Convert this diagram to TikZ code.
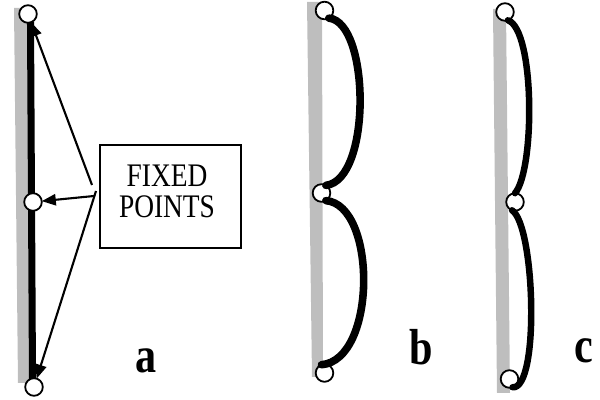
\documentclass[tikz,border=0pt]{standalone}
\usepackage{fontspec}
\setmainfont{Liberation Serif}
\usetikzlibrary{arrows.meta}
\definecolor{railgray}{RGB}{190,190,190}
\tikzset{
  rail/.style={fill=railgray, draw=none},
  pin/.style={circle, draw=black, fill=white, line width=1.3pt, minimum size=12.5pt, inner sep=0pt, outer sep=0pt},
  strand/.style={line width=5.4pt, line cap=round},
  thinstrand/.style={line width=4.6pt, line cap=round},
  pointer/.style={line width=1.5pt, -{Triangle[length=10pt,width=8pt]}},
  tag/.style={draw=black, line width=1.4pt, minimum width=100pt, minimum height=73pt, inner sep=0pt},
  tagtext/.style={inner sep=0pt, font=\fontsize{19.5}{16.6}\selectfont},
  panel/.style={anchor=base, inner sep=0pt, font=\fontsize{30}{32}\selectfont\bfseries}
}
\begin{document}
\begin{tikzpicture}[x=0.025cm, y=-0.025cm]
\useasboundingbox (0,0) rectangle (600,400);

% grey supports
\fill[rail] (14,8) -- (28,8) -- (29,383) -- (18,383) -- cycle;
\fill[rail] (307,2) -- (322,2) -- (323,377) -- (312,377) -- cycle;
\fill[rail] (493,9) -- (506,9) -- (510,393) -- (497,393) -- cycle;

% panel a: straight filament
\draw[line width=5pt] (30.5,22) -- (32.5,380);
\node[pin] (ta) at (28,14) {};
\node[pin] (ma) at (33,202) {};
\node[pin] (ba) at (34,387) {};

% label box and pointers
\node[tag] (box) at (170.5,196.5) {};
\node[tagtext] (words) at (167,195.4)
  {\scalebox{1}[1.2]{\begin{tabular}{@{}c@{}}FIXED\\POINTS\end{tabular}}};
\coordinate (s1) at (92,185);
\coordinate (s2) at (94,196);
\coordinate (s3) at (96,191);
\draw[pointer] (s1) -- (ta);
\draw[pointer] (s2) -- (ma);
\draw[pointer] (s3) -- (ba);

% panel b: two wide loops
\node[pin] (tb) at (324.5,10.5) {};
\node[pin] (mb) at (321.5,193) {};
\node[pin] (bb) at (324.5,373) {};
\draw[strand] (tb.-60) .. controls (370,22) and (372,180) .. (mb.60);
\draw[strand] (mb.-60) .. controls (377,205) and (377,360) .. (bb.110);

% panel c: two narrow loops
\node[pin] (tc) at (505,12) {};
\node[pin] (mc) at (515,202) {};
\node[pin] (bc) at (509.5,379) {};
\draw[thinstrand] (tc.-70) .. controls (535,30) and (535,170) .. (mc.90);
\draw[thinstrand] (mc.-110) .. controls (535,225) and (540,390) .. (bc.-70);

% panel letters
\node[panel] (la) at (146,373) {\scalebox{1}[1.2]{a}};
\node[panel] (lb) at (421,364) {\scalebox{1}[1.2]{b}};
\node[panel] (lc) at (584,363) {\scalebox{1}[1.2]{c}};
\end{tikzpicture}
\end{document}
